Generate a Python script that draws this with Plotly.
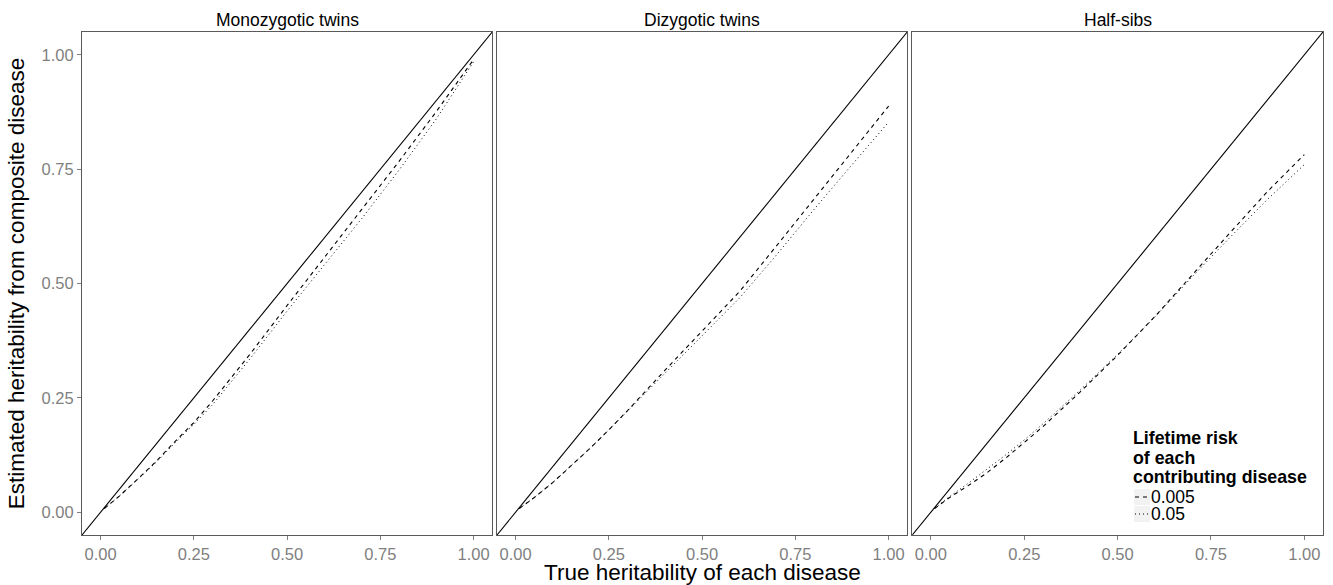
import plotly.graph_objects as go

panels = ["Monozygotic twins", "Dizygotic twins", "Half-sibs"]
h_true = [0.01, 0.05, 0.1, 0.15, 0.2, 0.25, 0.3, 0.4, 0.5, 0.6, 0.7, 0.8, 0.9, 1.0]

mz_005 = [0.008, 0.035, 0.073, 0.112, 0.155, 0.196, 0.243, 0.345, 0.452, 0.558, 0.662, 0.767, 0.876, 0.990]
mz_05 = [0.008, 0.035, 0.072, 0.110, 0.152, 0.192, 0.235, 0.335, 0.440, 0.541, 0.642, 0.748, 0.860, 0.985]
dz_005 = [0.008, 0.032, 0.065, 0.102, 0.140, 0.180, 0.222, 0.310, 0.395, 0.482, 0.583, 0.685, 0.787, 0.888]
dz_05 = [0.008, 0.032, 0.065, 0.102, 0.140, 0.180, 0.221, 0.305, 0.386, 0.468, 0.563, 0.662, 0.758, 0.853]
hs_005 = [0.008, 0.032, 0.058, 0.086, 0.118, 0.152, 0.187, 0.263, 0.343, 0.428, 0.520, 0.610, 0.700, 0.782]
hs_05 = [0.008, 0.034, 0.063, 0.093, 0.125, 0.158, 0.193, 0.267, 0.345, 0.427, 0.515, 0.600, 0.683, 0.760]

series_005 = [mz_005, dz_005, hs_005]
series_05 = [mz_05, dz_05, hs_05]
risk_labels = ["0.005", "0.05"]
legend_title_lines = ["Lifetime risk", "of each", "contributing disease"]
x_title = "True heritability of each disease"
y_title = "Estimated heritability from composite disease"

axis_range = [-0.05, 1.05]
tick_vals = [0.0, 0.25, 0.5, 0.75, 1.0]
tick_text = ["0.00", "0.25", "0.50", "0.75", "1.00"]

# figure geometry (pixels)
W, H = 1333, 585
ML, MR, MT, MB = 82, 10, 32, 50
PW, PH = W - ML - MR, H - MT - MB
domains = [[0.0, 0.3306], [0.3344, 0.6650], [0.6690, 1.0]]


def px(x):
    return (x - ML) / PW


def py(y):
    return (H - MB - y) / PH


FONT = "Liberation Sans, Arial, Helvetica, sans-serif"
dash_styles = ["4px,4px", "1px,3px"]
fig = go.Figure()

for i in range(3):
    xa = "x" if i == 0 else f"x{i+1}"
    ya = "y" if i == 0 else f"y{i+1}"
    fig.add_trace(go.Scatter(x=axis_range, y=axis_range, mode="lines",
                             line=dict(color="black", width=1.1),
                             xaxis=xa, yaxis=ya, showlegend=False, hoverinfo="skip"))
    fig.add_trace(go.Scatter(x=h_true, y=series_005[i], mode="lines",
                             line=dict(color="black", width=1.1, dash=dash_styles[0]),
                             name=risk_labels[0], showlegend=False, xaxis=xa, yaxis=ya))
    fig.add_trace(go.Scatter(x=h_true, y=series_05[i], mode="lines",
                             line=dict(color="black", width=1.0, dash=dash_styles[1]),
                             name=risk_labels[1], showlegend=False, xaxis=xa, yaxis=ya))

axis_common = dict(range=axis_range, showgrid=False, zeroline=False, automargin=False,
                   showline=True, mirror=True, linecolor="#5a5a5a", linewidth=1,
                   ticks="outside", ticklen=4, tickcolor="#7f7f7f", tickwidth=1,
                   tickvals=tick_vals, ticktext=tick_text,
                   tickfont=dict(family=FONT, size=16.5, color="#7f7f7f"))

layout = dict(
    width=W, height=H,
    margin=dict(l=ML, r=MR, t=MT, b=MB),
    paper_bgcolor="white", plot_bgcolor="white",
    font=dict(family=FONT, color="black"),
    showlegend=False,
)

for i in range(3):
    xk = "xaxis" if i == 0 else f"xaxis{i+1}"
    yk = "yaxis" if i == 0 else f"yaxis{i+1}"
    xa = dict(axis_common, domain=domains[i], anchor="y" if i == 0 else f"y{i+1}")
    ya = dict(axis_common, domain=[0, 1], anchor="x" if i == 0 else f"x{i+1}")
    if i > 0:
        ya["showticklabels"] = False
        ya["ticks"] = ""
    if i == 0:
        ya["title"] = dict(text=y_title,
                           font=dict(family=FONT, size=22.5, color="black"), standoff=10)
    layout[xk] = xa
    layout[yk] = ya

annotations = []
for i, name in enumerate(panels):
    annotations.append(dict(text=name, x=sum(domains[i]) / 2, y=1.0, xref="paper", yref="paper",
                            xanchor="center", yanchor="bottom", yshift=0, showarrow=False,
                            font=dict(family=FONT, size=17.5, color="black")))

# shared x-axis title, centred under the middle panel
annotations.append(dict(text=x_title, x=sum(domains[1]) / 2, y=py(H), xref="paper", yref="paper",
                        xanchor="center", yanchor="bottom", yshift=-1, showarrow=False,
                        borderpad=0, font=dict(family=FONT, size=22.5, color="black")))

# legend (drawn as text + key shapes)
title_y = [438, 457.5, 477]
for t, yy in zip(legend_title_lines, title_y):
    annotations.append(dict(text=f"<b>{t}</b>", x=px(1132), y=py(yy), xref="paper", yref="paper",
                            xanchor="left", yanchor="middle", showarrow=False, borderpad=0,
                            font=dict(family=FONT, size=17.8, color="black")))
key_y = [497, 514]
shapes = []
for lab, yy, dsh in zip(risk_labels, key_y, dash_styles):
    annotations.append(dict(text=lab, x=px(1150), y=py(yy), xref="paper", yref="paper",
                            xanchor="left", yanchor="middle", showarrow=False, borderpad=0,
                            font=dict(family=FONT, size=17.5, color="black")))
    shapes.append(dict(type="rect", xref="paper", yref="paper",
                       x0=px(1134), x1=px(1150), y0=py(yy - 8), y1=py(yy + 8),
                       fillcolor="#f2f2f2", line=dict(width=0), layer="below"))
    shapes.append(dict(type="line", xref="paper", yref="paper",
                       x0=px(1135), x1=px(1149), y0=py(yy), y1=py(yy),
                       line=dict(color="black", width=1.1, dash=dsh)))

layout["annotations"] = annotations
layout["shapes"] = shapes

fig.update_layout(**layout)
fig.write_html("out.html", config={"displayModeBar": False},
               post_script="document.body.style.margin='0px';")
